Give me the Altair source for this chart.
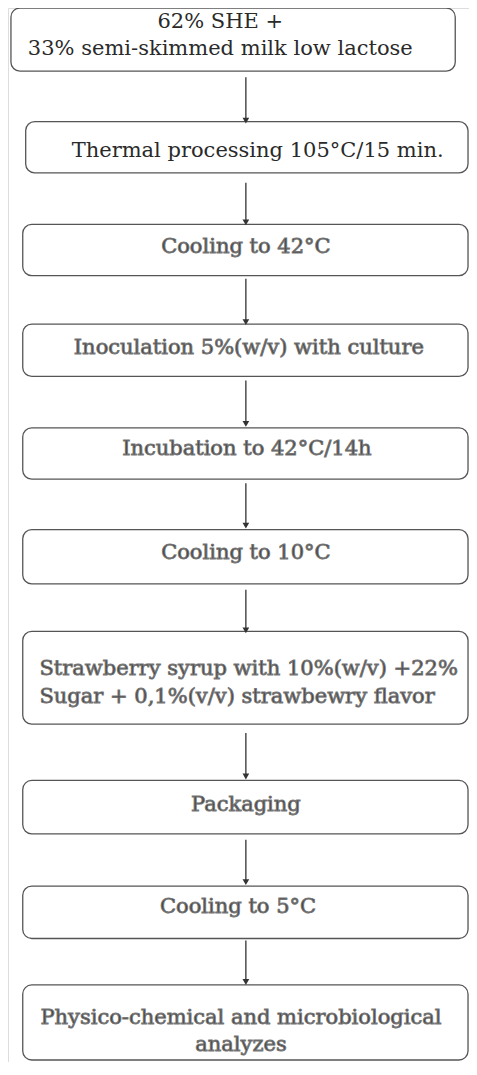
import altair as alt
import pandas as pd

# Flowchart steps (box extents in reference pixel coordinates)
box_x1 = [11, 26, 23, 23, 23, 23, 23, 23, 23, 23]
box_x2 = [463, 476, 476, 476, 476, 476, 476, 476, 476, 476]
box_y1 = [8, 123, 227, 328, 433, 536, 639, 790, 897, 997]
box_y2 = [72, 175, 279, 381, 485, 591, 733, 844, 950, 1073]

# Arrows between boxes
arrow_x = [250] * 9
arrow_y1 = [78, 185, 282, 385, 489, 597, 742, 850, 952]
arrow_y2 = [122, 225, 326, 429, 532, 638, 786, 893, 994]

# Text lines
crisp_text = ["62%  SHE +", "33% semi-skimmed  milk low lactose", "Thermal processing  105\u00b0C/15 min."]
crisp_x = [224, 224, 262]
crisp_y = [22, 50, 153]

ghost_text = ["Cooling to 42\u00b0C", "Inoculation 5%(w/v)  with culture", "Incubation to 42\u00b0C/14h",
              "Cooling to 10\u00b0C", "Packaging", "Cooling to 5\u00b0C",
              "Physico-chemical  and microbiological", "analyzes"]
ghost_x = [250, 253, 251, 250, 250, 242, 245, 245]
ghost_y = [250, 352, 454, 560, 815, 918, 1030, 1058]

left_text = ["Strawberry syrup with 10%(w/v) +22%", "Sugar + 0,1%(v/v)  strawbewry flavor"]
left_x = [40, 40]
left_y = [677, 705]

boxes = pd.DataFrame({"x1": box_x1, "x2": box_x2, "y1": box_y1, "y2": box_y2})
arrows = pd.DataFrame({"x": arrow_x, "y1": arrow_y1, "y2": arrow_y2})
crisp = pd.DataFrame({"t": crisp_text, "x": crisp_x, "y": crisp_y})
ghost = pd.DataFrame({"t": ghost_text, "x": ghost_x, "y": ghost_y})
left = pd.DataFrame({"t": left_text, "x": left_x, "y": left_y})

xs = alt.Scale(domain=[8, 477], nice=False, zero=False)
ys = alt.Scale(domain=[8, 1075], nice=False, zero=False, reverse=True)

def X(f):
    return alt.X(f, type="quantitative", scale=xs, axis=None)

def Y(f):
    return alt.Y(f, type="quantitative", scale=ys, axis=None)

box_layer = alt.Chart(boxes).mark_rect(
    fill="white", stroke="#555555", strokeWidth=1.3, cornerRadius=9
).encode(x=X("x1"), x2="x2", y=Y("y1"), y2="y2")

rule_layer = alt.Chart(arrows).mark_rule(color="#333333", strokeWidth=1.3).encode(
    x=X("x"), y=Y("y1"), y2="y2")

head_layer = alt.Chart(arrows).mark_point(
    shape="triangle-down", filled=True, color="#333333", size=45, opacity=1
).encode(x=X("x"), y=Y("y2"))

font = "DejaVu Serif"
crisp_layer = alt.Chart(crisp).mark_text(
    font=font, fontSize=21, color="#2a2a2a", align="center", baseline="middle"
).encode(x=X("x"), y=Y("y"), text="t:N")

ghost_layer = alt.Chart(ghost).mark_text(
    font=font, fontSize=21, color="#444444", stroke="#777777", strokeWidth=0.9,
    align="center", baseline="middle"
).encode(x=X("x"), y=Y("y"), text="t:N")

left_layer = alt.Chart(left).mark_text(
    font=font, fontSize=21, color="#444444", stroke="#777777", strokeWidth=0.9,
    align="left", baseline="middle"
).encode(x=X("x"), y=Y("y"), text="t:N")

chart = alt.layer(box_layer, rule_layer, head_layer, crisp_layer, ghost_layer, left_layer).properties(
    width=461, height=1054, padding=0, autosize=alt.AutoSizeParams(type="none")
).configure_view(strokeWidth=0, strokeOpacity=0).configure(background="white")

chart.save("out.html", embed_options={"renderer": "svg", "actions": False})
